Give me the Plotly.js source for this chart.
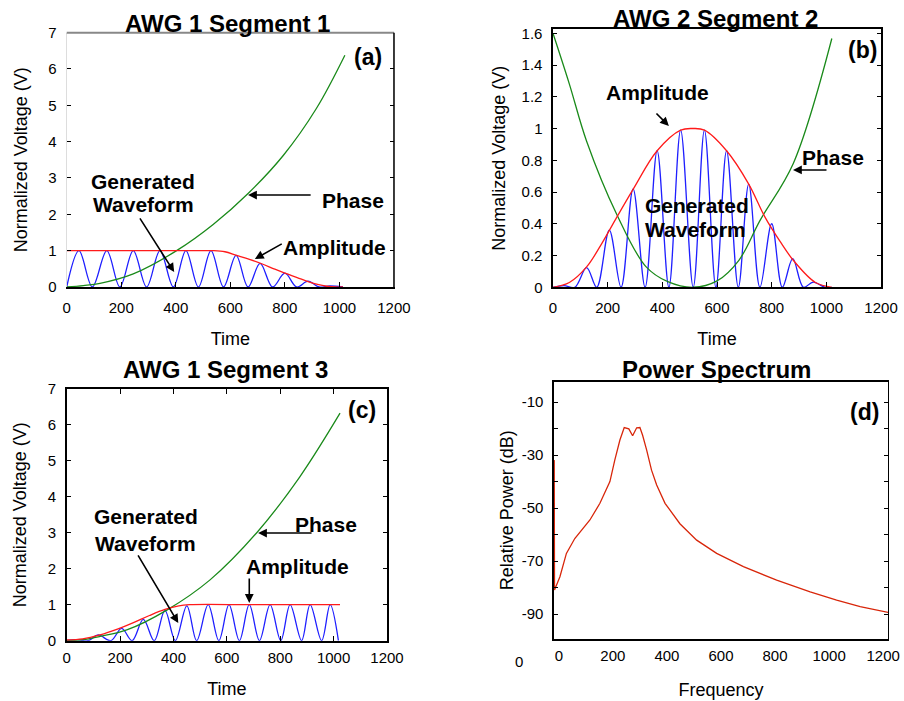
<!DOCTYPE html>
<html>
<head>
<meta charset="utf-8">
<script src="https://cdn.plot.ly/plotly-3.0.1.min.js"></script>
<style>html,body{margin:0;padding:0;background:#fff;}#chart{width:904px;height:701px;}</style>
</head>
<body>
<div id="chart"></div>
<script>
// ---------- Panel (a): AWG 1 Segment 1 ----------
const aWaveT = [0,45,94,147,195,244,293,342,391,437,483,529,575,621,665,709,755,800,843,885,925,965,1013];
const aWaveV = [0,1,0,1,0,1,0,1,0,1,0,1,0,0.87,0,0.65,0,0.38,0,0.16,0,0.03,0];
const aAmpT = [0,270,450,537,580,623,670,715,760,800,845,885,920,955,985,1013];
const aAmpV = [1,1,1,1,0.97,0.87,0.76,0.64,0.5,0.38,0.26,0.15,0.07,0.02,0,0];
const aPhaseT = [0,61,122,244,403,537,666,794,916,1020];
const aPhaseV = [0,0.04,0.1,0.36,1.0,1.72,2.58,3.62,4.92,6.38];

// ---------- Panel (b): AWG 2 Segment 2 ----------
const bWaveT = [0,40,80,123,160,206,249,293,337,381,424,467,513,554,596,635,678,716,757,800,839,877,916,952,995,1020];
const bWaveV = [0,0.01,0,0.124,0,0.36,0,0.62,0,0.86,0,0.99,0,0.99,0,0.86,0,0.65,0,0.40,0,0.18,0,0.033,0,0];
const bAmpT = [0,60,123,180,233,294,381,467,513,554,635,716,776,830,879,960,1020];
const bAmpV = [0,0.03,0.128,0.28,0.44,0.62,0.86,0.99,1.0,0.99,0.86,0.65,0.44,0.29,0.17,0.03,0];
const bPhaseT = [0,60,123,233,340,420,513,600,680,757,879,1020];
const bPhaseV = [1.6,1.28,0.92,0.46,0.13,0.035,0,0.04,0.17,0.42,0.78,1.567];

// ---------- Panel (c): AWG 1 Segment 3 ----------
const cWaveT = [0,40,80,118,165,206,245,287,328,368,407,450,487,530,570,608,647,684,722,762,802,837,880,912,955,987,1018];
const cWaveV = [0,0.03,0,0.16,0,0.34,0,0.59,0,0.84,0,0.97,0,1,0,1,0,1,0,1,0,1,0,1,0,1,0];
const cAmpT = [0,60,125,190,250,310,368,420,460,700,1024];
const cAmpV = [0.02,0.05,0.16,0.32,0.5,0.7,0.87,0.97,1,1,1];
const cPhaseT = [0,60,125,225,375,537,712,874,1024];
const cPhaseV = [0,0.03,0.12,0.3,0.85,1.69,3.0,4.56,6.32];

// ---------- Panel (d): Power Spectrum ----------
const freq = [-17,-16,4,28,59,115,152,189,207,226,242,259,273,288,300,310,325,343,362,393,448,510,584,683,806,930,1028,1115,1220];
const powerDB = [-31.9,-80.9,-75.9,-67.1,-61.5,-54.5,-48.2,-40,-31.9,-24.3,-19.6,-20.1,-22.7,-19.7,-19.6,-22.5,-28.1,-35.7,-41.3,-48.2,-55.9,-62.1,-67.1,-72.1,-77.2,-81.6,-84.7,-87.2,-89.4];

// tick labels
const timeTicks = [0,200,400,600,800,1000,1200];
const freqLabelTicks = [0,200,400,600,800,1000,1200];
const freqMarkTicks = [88,210,333,455,581,704,826,952,1074];
const dbTickVals = [-90,-80,-70,-60,-50,-40,-30,-20,-10];
const dbTickText = ['-90','','-70','','-50','','-30','','-10'];

const BLUE = '#1f1fff', GREEN = '#1a8a1a', RED = '#ff1a1a', SPEC = '#d8260a';
const FONT = 'Arial, "Liberation Sans", Helvetica, sans-serif';

function ln(x, y, color, xa, ya, shape) {
  return {x: x, y: y, xaxis: xa, yaxis: ya, type: 'scatter', mode: 'lines',
    line: {color: color, width: 1.3, shape: shape || 'spline', smoothing: 1},
    hoverinfo: 'skip', showlegend: false};
}

const traces = [
  ln(aWaveT, aWaveV, BLUE, 'x', 'y'),
  ln(aPhaseT, aPhaseV, GREEN, 'x', 'y'),
  ln(aAmpT, aAmpV, RED, 'x', 'y'),
  ln(bWaveT, bWaveV, BLUE, 'x2', 'y2'),
  ln(bPhaseT, bPhaseV, GREEN, 'x2', 'y2'),
  ln(bAmpT, bAmpV, RED, 'x2', 'y2'),
  ln(cWaveT, cWaveV, BLUE, 'x3', 'y3'),
  ln(cPhaseT, cPhaseV, GREEN, 'x3', 'y3'),
  ln(cAmpT, cAmpV, RED, 'x3', 'y3'),
  ln(freq, powerDB, SPEC, 'x4', 'y4', 'linear')
];

const tickFont = {family: FONT, size: 15, color: '#000'};
const titleFont = {family: FONT, size: 18, color: '#000'};

function xAxis(domain, anchor, title, standoff, lblOff, extra) {
  return Object.assign({
    domain: domain, anchor: anchor, range: [0, 1200],
    tickvals: timeTicks, ticks: 'inside', ticklen: 5, tickwidth: 1, tickcolor: '#000',
    showline: true, linecolor: '#000', linewidth: 2,
    showgrid: false, zeroline: false, tickfont: tickFont,
    ticklabelstandoff: lblOff,
    title: {text: title, font: titleFont, standoff: standoff}
  }, extra || {});
}
function yAxis(domain, anchor, range, dtick, title, standoff, extra) {
  return Object.assign({
    domain: domain, anchor: anchor, range: range, dtick: dtick, tick0: 0,
    ticks: 'inside', ticklen: 4, tickwidth: 1, tickcolor: '#000', mirror: 'allticks',
    showline: true, linecolor: '#000', linewidth: 1.5,
    showgrid: false, zeroline: false, tickfont: tickFont,
    ticklabelstandoff: 6,
    title: {text: title, font: titleFont, standoff: standoff}
  }, extra || {});
}

const xa = [0.0738, 0.4358], ya = [0.5906, 0.9534];
const xb = [0.6117, 0.9746], yb = [0.5902, 0.9582];
const xc = [0.0738, 0.4281], yc = [0.0860, 0.4455];
const xd = [0.6128, 0.9823], yd = [0.0885, 0.4555];

function bold(t) { return '<b>' + t + '</b>'; }
function txt(text, x, y, xr, yr, size) {
  return {text: bold(text), x: x, y: y, xref: xr, yref: yr, showarrow: false,
    font: {family: FONT, size: size || 21, color: '#000'}, xanchor: 'center', yanchor: 'middle'};
}
function arrow(hx, hy, tx, ty, xr, yr) {
  return {text: '', x: hx, y: hy, ax: tx, ay: ty, xref: xr, yref: yr, axref: xr, ayref: yr,
    showarrow: true, arrowhead: 2, arrowsize: 1.1, arrowwidth: 1.6, arrowcolor: '#000', standoff: 0};
}

const annotations = [
  // titles
  txt('AWG 1 Segment 1', 0.2522, 0.967, 'paper', 'paper', 24),
  txt('AWG 2 Segment 2', 0.792, 0.974, 'paper', 'paper', 24),
  txt('AWG 1 Segment 3', 0.2489, 0.4736, 'paper', 'paper', 24),
  txt('Power Spectrum', 0.793, 0.4722, 'paper', 'paper', 24),
  // panel a
  txt('(a)', 1105, 6.33, 'x', 'y', 23),
  txt('Phase', 1050, 2.39, 'x', 'y'),
  arrow(665, 2.53, 900, 2.53, 'x', 'y'),
  txt('Generated', 280, 2.89, 'x', 'y'),
  txt('Waveform', 280, 2.26, 'x', 'y'),
  arrow(394, 0.41, 265, 1.93, 'x', 'y'),
  txt('Amplitude', 983, 1.1, 'x', 'y'),
  arrow(690, 0.77, 794, 1.21, 'x', 'y'),
  // panel b
  txt('(b)', 1134, 1.495, 'x2', 'y2', 23),
  txt('Amplitude', 381, 1.23, 'x2', 'y2'),
  arrow(424, 1.016, 373, 1.104, 'x2', 'y2'),
  txt('Phase', 1024, 0.82, 'x2', 'y2'),
  arrow(878, 0.739, 1006, 0.739, 'x2', 'y2'),
  txt('Generated', 527, 0.512, 'x2', 'y2'),
  txt('Waveform', 520, 0.361, 'x2', 'y2'),
  // panel c
  txt('(c)', 1106, 6.41, 'x3', 'y3', 23),
  txt('Phase', 972, 3.24, 'x3', 'y3'),
  arrow(717, 2.99, 923, 2.99, 'x3', 'y3'),
  txt('Generated', 297, 3.44, 'x3', 'y3'),
  txt('Waveform', 294, 2.71, 'x3', 'y3'),
  arrow(418, 0.49, 264, 2.41, 'x3', 'y3'),
  txt('Amplitude', 863, 2.05, 'x3', 'y3'),
  arrow(684, 1.05, 684, 1.77, 'x3', 'y3'),
  // panel d
  txt('(d)', 1130, -13.8, 'x4', 'y4', 23),
  {text: '0', x: 0.574, y: 0.057, xref: 'paper', yref: 'paper', showarrow: false,
   font: {family: FONT, size: 15, color: '#000'}, xanchor: 'center', yanchor: 'middle'}
];

const shapes = [
  // panel a: gray top border, black right border
  {type: 'line', xref: 'x domain', yref: 'y domain', x0: 0, x1: 1, y0: 1, y1: 1, line: {color: '#888', width: 2}},
  {type: 'line', xref: 'x domain', yref: 'y domain', x0: 1, x1: 1, y0: 0, y1: 1, line: {color: '#000', width: 1.5}}
];

const layout = {
  width: 904, height: 701,
  margin: {l: 0, r: 0, t: 0, b: 0},
  paper_bgcolor: '#fff', plot_bgcolor: 'rgba(0,0,0,0)',
  font: {family: FONT, color: '#000'},
  showlegend: false,
  xaxis: xAxis(xa, 'y', 'Time', 17, 6),
  yaxis: yAxis(ya, 'x', [0, 7], 1, 'Normalized Voltage (V)', 16, {linecolor: '#ddd', linewidth: 1, mirror: 'ticks'}),
  xaxis2: xAxis(xb, 'y2', 'Time', 17, 6, {mirror: true}),
  yaxis2: yAxis(yb, 'x2', [0, 1.625], 0.2, 'Normalized Voltage (V)', 11),
  xaxis3: xAxis(xc, 'y3', 'Time', 18, 2, {mirror: 'ticks'}),
  yaxis3: yAxis(yc, 'x3', [0, 7], 1, 'Normalized Voltage (V)', 16),
  xaxis4: xAxis(xd, 'y4', 'Frequency', 20, 2, {range: [-18, 1218], tickvals: freqLabelTicks, ticks: '', mirror: true}),
  xaxis5: {domain: xd, anchor: 'y4', overlaying: 'x4', range: [-18, 1218], tickvals: freqMarkTicks,
    ticks: 'inside', ticklen: 5, tickcolor: '#000', mirror: 'ticks', showticklabels: false,
    showline: false, showgrid: false, zeroline: false},
  yaxis4: yAxis(yd, 'x4', [-99.4, -2.3], null, 'Relative Power (dB)', 3, {tickvals: dbTickVals, ticktext: dbTickText}),
  annotations: annotations,
  shapes: shapes
};

Plotly.newPlot('chart', traces, layout, {staticPlot: true, displayModeBar: false});
</script>
</body>
</html>
